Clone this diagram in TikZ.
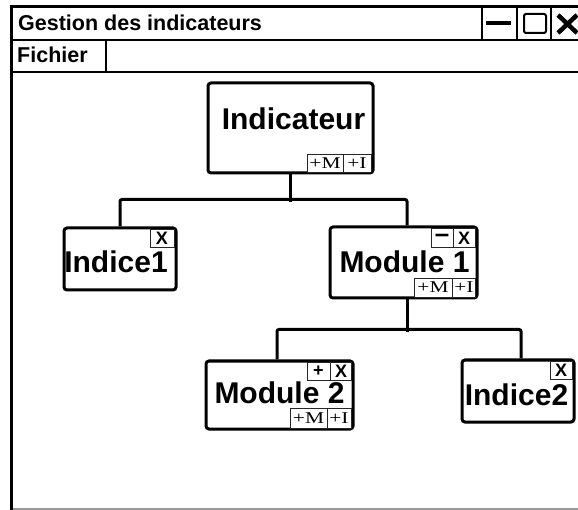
\documentclass[tikz,border=0pt]{standalone}
\usepackage{graphicx}
\usepackage{fontspec}
\newfontfamily\lsans{Liberation Sans}
\newfontfamily\lserif{Liberation Serif}
\newcommand{\wideb}[1]{\scalebox{1.3}[1]{#1}}
\begin{document}
\begin{tikzpicture}[x=1pt,y=-1pt,
  tnode/.style={draw, line width=3pt, rounded corners=3pt, fill=white, inner sep=0pt},
  conn/.style={line width=3pt, rounded corners=2pt},
  lbl/.style={font=\lsans\bfseries\fontsize{30}{30}\selectfont, anchor=base, inner sep=0pt},
  wintext/.style={font=\lsans\bfseries\fontsize{21.5}{22}\selectfont, anchor=base west, inner sep=0pt},
  badge/.style={draw=black!85, line width=0.8pt, inner sep=0pt, fill=white},
  serb/.style={badge, font=\lserif\fontsize{16.5}{16.5}\selectfont},
  sanb/.style={badge, font=\lsans\bfseries\fontsize{18}{18}\selectfont},
]
\useasboundingbox (0,0) rectangle (578,510);
\fill[white] (0,0) rectangle (578,510);

% window frame
\draw[line width=3pt] (11,7) -- (595,7);
\draw[line width=2pt] (11,40) -- (595,40);
\draw[line width=1.5pt] (11,72) -- (595,72);
\draw[line width=1.5pt] (106,40) -- (106,72);
\draw[line width=1.5pt] (482,7) -- (482,40);
\draw[line width=1.5pt] (517,7) -- (517,40);
\draw[line width=1.5pt] (551,7) -- (551,40);
\draw[black!40, line width=2pt] (11,509) -- (595,509);
\draw[line width=3pt] (11,5.5) -- (11,510);

% window buttons
\draw[line width=4pt] (486,23.5) -- (511,23.5);
\draw[line width=2pt, rounded corners=2pt] (524,14) rectangle (546,33);
\draw[line width=4.5pt] (558,15) -- (577,33);
\draw[line width=4.5pt] (558,33) -- (577,15);

\node[wintext] (title) at (18,31) {Gestion des indicateurs};
\node[wintext] (menu) at (17,63) {Fichier};

% tree boxes
\node[tnode, minimum width=165, minimum height=90] (ind) at (290.5,128) {};
\node[tnode, minimum width=112, minimum height=62] (i1) at (120,259) {};
\node[tnode, minimum width=147, minimum height=71] (m1) at (403.5,262.5) {};
\node[tnode, minimum width=147, minimum height=68] (m2) at (279.5,395) {};
\node[tnode, minimum width=112, minimum height=62] (i2) at (518,391) {};

% connectors
\draw[conn] (ind.south) -- ++(0,28);
\draw[conn] (i1.north) -- ++(0,-27) -| ([xshift=3.5pt]m1.north);
\draw[conn] ([xshift=3.5pt]m1.south) -- ++(0,33);
\draw[conn] ([xshift=-2.5pt]m2.north) -- ++(0,-30) -| ([xshift=3pt]i2.north);

% labels
\node[lbl] (indl) at (293.5,130) {Indicateur};
\node[lbl] (i1l) at (116,273) {Indice1};
\node[lbl] (m1l) at (404.5,273) {Module 1};
\node[lbl] (m2l) at (279.5,403) {Module 2};
\node[lbl] (i2l) at (516.5,405) {Indice2};

% badges
\node[serb, minimum width=36, minimum height=18] (indm) at (325,163) {\wideb{+M}};
\node[serb, minimum width=28, minimum height=18] (indi) at (357,163) {\wideb{+I}};

\node[sanb, minimum width=24, minimum height=18] (i1x) at (162,238) {X};

\node[sanb, minimum width=22, minimum height=19, font=\lsans\bfseries\fontsize{26}{26}\selectfont] (m1min) at (442,238) {–};
\node[sanb, minimum width=22, minimum height=19] (m1x) at (464,238) {X};
\node[serb, minimum width=38, minimum height=19] (m1m) at (433,287.5) {\wideb{+M}};
\node[serb, minimum width=23, minimum height=19] (m1i) at (464,287.5) {\wideb{+I}};

\node[sanb, minimum width=23, minimum height=18] (m2p) at (318.5,371) {+};
\node[sanb, minimum width=21, minimum height=18] (m2x) at (341,371) {X};
\node[serb, minimum width=37, minimum height=20] (m2m) at (308.5,418) {\wideb{+M}};
\node[serb, minimum width=24, minimum height=20] (m2i) at (339,418) {\wideb{+I}};

\node[sanb, minimum width=22, minimum height=18] (i2x) at (561,370) {X};
\end{tikzpicture}
\end{document}
